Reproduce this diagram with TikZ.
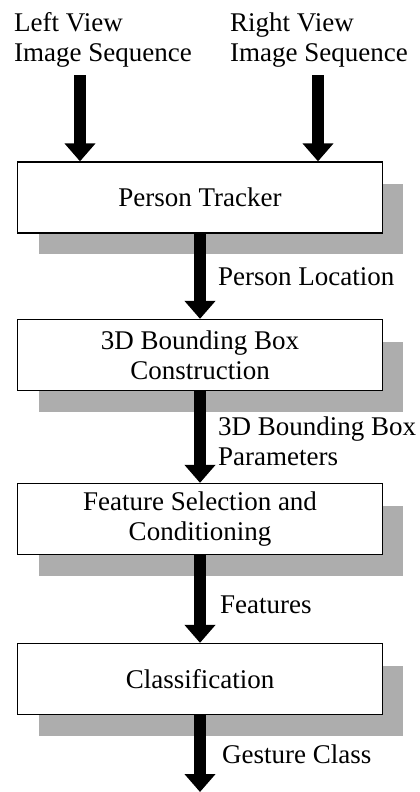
\documentclass[tikz,border=0pt]{standalone}
\usepackage{fontspec}
\setmainfont{Liberation Serif}
\usetikzlibrary{arrows.meta}

\tikzset{
  txt/.style={font=\fontsize{27}{30}\selectfont, inner sep=0pt},
  stage/.style={txt, draw, line width=1.3pt, fill=white, align=center,
    minimum width=365pt, minimum height=71pt},
  lbl/.style={txt, align=left},
  flow/.style={line width=12pt, -{Triangle[width=30pt 0 0, length=18pt 0 0]}},
  shadow/.style={fill=black!32}
}

\begin{document}
\begin{tikzpicture}[x=1pt, y=-1pt]
  \useasboundingbox (0,0) rectangle (420,792);

  % input labels (base anchor = baseline of the last line)
  \node[lbl, anchor=base west] (lv) at (14,62) {Left View\\Image Sequence};
  \node[lbl, anchor=base west] (rv) at (230,62) {Right View\\Image Sequence};

  % processing stages (shadow first, then the box on top)
  \foreach \name/\y in {pt/197.5, bb/355, fs/519, cls/679} {
    \fill[shadow] (39,\y-35.5+22) rectangle (403,\y+35.5+21);
  }
  \node[stage] (pt)  at (200,197.5) {Person Tracker};
  \node[stage] (bb)  at (200,355)   {3D Bounding Box\\Construction};
  \node[stage] (fs)  at (200,519)   {Feature Selection and\\Conditioning};
  \node[stage] (cls) at (200,679)   {Classification};

  % free ends of the outer arrows
  \coordinate (lin) at (80,75);
  \coordinate (rin) at (318,75);
  \coordinate (out) at (200,792);

  % data flow
  \draw[flow] (lin) -- (lin |- pt.north);
  \draw[flow] (rin) -- (rin |- pt.north);
  \draw[flow] (pt.south) -- (bb.north);
  \draw[flow] (bb.south) -- (fs.north);
  \draw[flow] (fs.south) -- (cls.north);
  \draw[flow] (cls.south) -- (out);

  % connector labels
  \node[lbl, anchor=base west] (l1) at (218,285) {Person Location};
  \node[lbl, anchor=base west] (l2) at (218,465) {3D Bounding Box\\Parameters};
  \node[lbl, anchor=base west] (l3) at (220,613) {Features};
  \node[lbl, anchor=base west] (l4) at (222,763) {Gesture Class};
\end{tikzpicture}
\end{document}
